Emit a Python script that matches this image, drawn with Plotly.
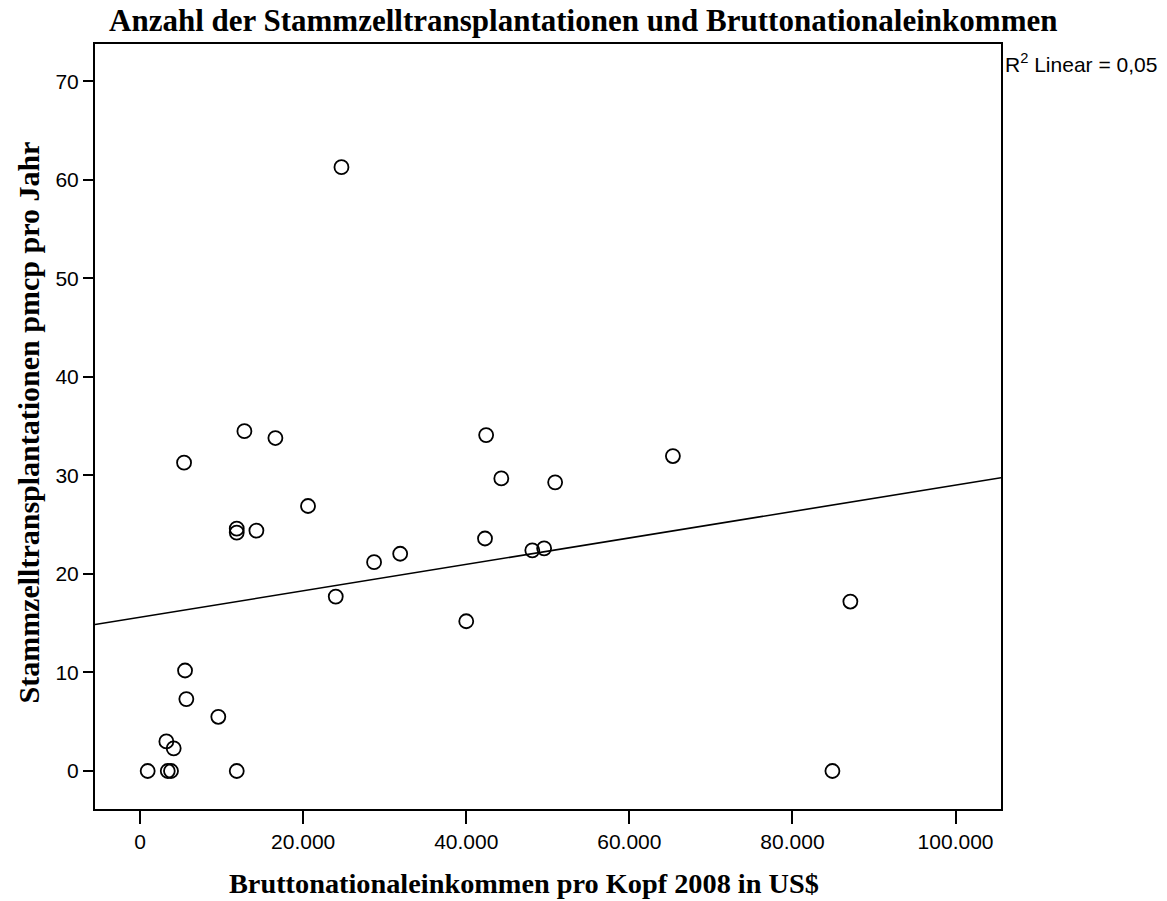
import numpy as np
import plotly.graph_objects as go

# Gross national income per capita 2008 (US$) and stem cell transplants per million per year
gni_per_capita = [24700, 12800, 16600, 5400, 20600, 11860, 11860, 14270, 31900, 28700,
                  24000, 5520, 5680, 9600, 3230, 4130, 940, 3400, 3800, 11860,
                  42440, 65340, 44300, 50900, 42300, 48100, 49550, 40000, 87100, 84900]
transplants_pmcp = [61.3, 34.5, 33.8, 31.3, 26.9, 24.6, 24.2, 24.4, 22.05, 21.2,
                    17.7, 10.2, 7.3, 5.5, 3.0, 2.3, 0.0, 0.0, 0.0, 0.0,
                    34.1, 31.97, 29.7, 29.3, 23.6, 22.4, 22.6, 15.2, 17.2, 0.0]

x_ticks = [0, 20000, 40000, 60000, 80000, 100000]
y_ticks = [0, 10, 20, 30, 40, 50, 60, 70]
x_range = [-5520, 105570]
y_range = [-3.86, 73.8]

title_text = "Anzahl der Stammzelltransplantationen und Bruttonationaleinkommen"
x_title = "Bruttonationaleinkommen pro Kopf 2008 in US$"
y_title = "Stammzelltransplantationen pmcp pro Jahr"
fit_label = "R<sup>2</sup> Linear = 0,05"

# Least-squares linear fit across the full axis width
x = np.array(gni_per_capita, dtype=float)
y = np.array(transplants_pmcp, dtype=float)
slope, intercept = np.polyfit(x, y, 1)
fit_x = np.array(x_range)
fit_y = intercept + slope * fit_x

serif = "Liberation Serif, Times New Roman, serif"
sans = "Liberation Sans, Arial, sans-serif"

fig = go.Figure()
fig.add_trace(go.Scatter(
    x=fit_x, y=fit_y, mode="lines",
    line=dict(color="black", width=1.6),
    showlegend=False, hoverinfo="skip",
))
fig.add_trace(go.Scatter(
    x=gni_per_capita, y=transplants_pmcp, mode="markers",
    marker=dict(symbol="circle-open", size=14, color="black", line=dict(width=1.8, color="black")),
    showlegend=False,
))

fig.update_layout(
    width=1167, height=901,
    margin=dict(l=95, r=166, t=44, b=92),
    paper_bgcolor="white", plot_bgcolor="white",
    separators=",.",
    font=dict(family=sans, color="black"),
    xaxis=dict(
        range=x_range, tickvals=x_ticks, tickformat=",d",
        showgrid=False, zeroline=False,
        showline=True, linecolor="black", linewidth=2, mirror=True,
        ticks="outside", ticklen=13, tickwidth=2, tickcolor="black",
        tickfont=dict(family=sans, size=21, color="black"),
    ),
    yaxis=dict(
        range=y_range, tickvals=y_ticks,
        showgrid=False, zeroline=False,
        showline=True, linecolor="black", linewidth=2, mirror=True,
        ticks="outside", ticklen=10, tickwidth=2, tickcolor="black",
        tickfont=dict(family=sans, size=21, color="black"),
    ),
    annotations=[
        dict(text="<b>" + title_text + "</b>", xref="paper", yref="paper",
             x=0.539, y=1.031, xanchor="center", yanchor="middle", showarrow=False,
             font=dict(family=serif, size=31, color="black")),
        dict(text="<b>" + x_title + "</b>", xref="paper", yref="paper",
             x=0.4735, y=-0.098, xanchor="center", yanchor="middle", showarrow=False,
             font=dict(family=serif, size=28.3, color="black")),
        dict(text="<b>" + y_title + "</b>", xref="paper", yref="paper",
             x=-0.073, y=0.505, xanchor="center", yanchor="middle", showarrow=False,
             textangle=-90,
             font=dict(family=serif, size=30, color="black")),
        dict(text=fit_label, xref="paper", yref="paper",
             x=1.0022, y=0.975, xanchor="left", yanchor="middle", showarrow=False,
             font=dict(family=sans, size=21, color="black")),
    ],
)

fig.write_html("out.html")
